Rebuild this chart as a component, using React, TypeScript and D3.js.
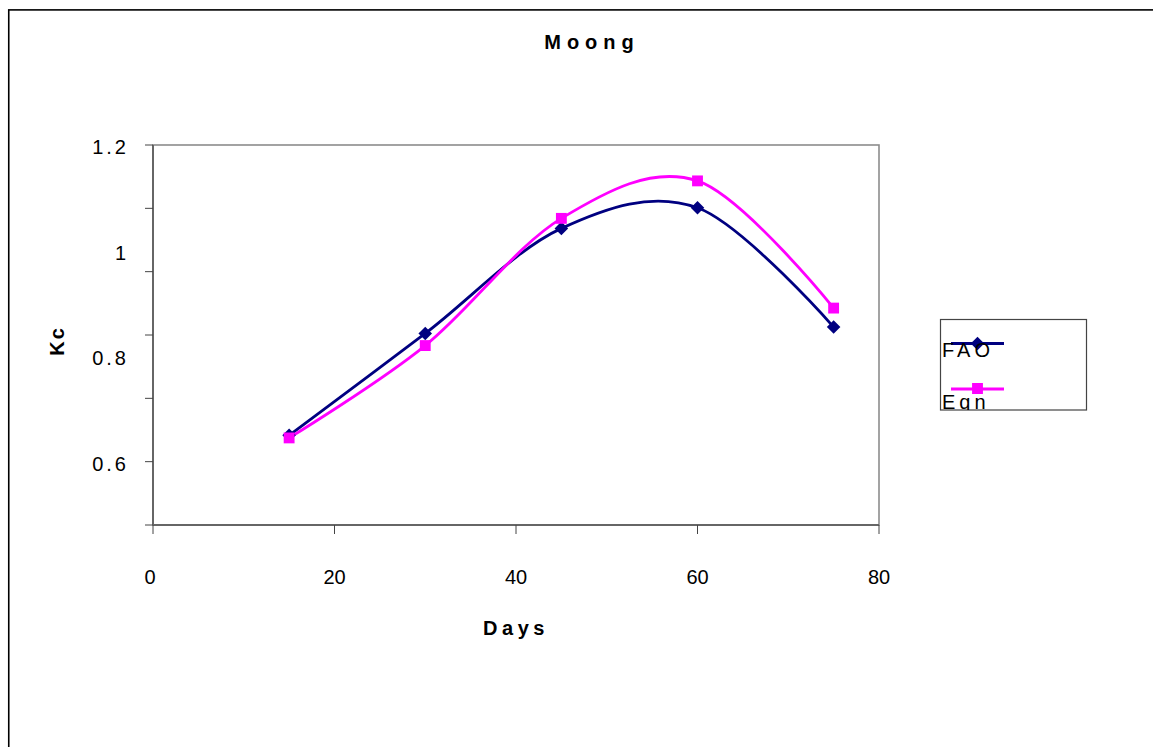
import React from "react";
import * as d3 from "d3";

// Crop coefficient (Kc) of moong by growth stage, two estimation methods
const days = [15, 30, 45, 60, 75];
const faoKc = [0.65, 0.843, 1.042, 1.081, 0.855];
const eqnKc = [0.645, 0.82, 1.061, 1.132, 0.891];

const xTickValues = [0, 20, 40, 60, 80];
const yTickValues = [1.2, 1.08, 0.96, 0.84, 0.72, 0.6, 0.48];
const yLabelValues = [1.2, 1.0, 0.8, 0.6];

const seriesNames = ["FAO", "Eqn"];
const seriesColors = ["#000080", "#FF00FF"];

const FONT = "'Liberation Sans', Arial, sans-serif";

export default function App() {
  const W = 1153;
  const H = 747;
  const plot = { left: 153, right: 879, top: 145, bottom: 525 };

  const x = d3.scaleLinear().domain([0, 80]).range([plot.left, plot.right]);
  const y = d3.scaleLinear().domain([0.48, 1.2]).range([plot.bottom, plot.top]);

  const line = d3
    .line<[number, number]>()
    .x((d) => x(d[0]))
    .y((d) => y(d[1]))
    .curve(d3.curveCatmullRom.alpha(0));

  const series = [faoKc, eqnKc].map((vals, i) => ({
    name: seriesNames[i],
    color: seriesColors[i],
    points: days.map((d, j) => [d, vals[j]] as [number, number]),
  }));

  const squarePath = d3.symbol(d3.symbolSquare, 118)() as string;
  const diamondPath = d3.symbol(d3.symbolSquare, 92)() as string;

  const marker = (i: number, cx: number, cy: number, key: string) =>
    i === 0 ? (
      <path key={key} d={diamondPath} transform={`translate(${cx},${cy}) rotate(45)`} fill={seriesColors[0]} />
    ) : (
      <path key={key} d={squarePath} transform={`translate(${cx},${cy})`} fill={seriesColors[1]} />
    );

  const legend = { x: 940.5, y: 319.5, w: 146, h: 90.5 };

  return (
    <svg
      width={W}
      height={H}
      style={{ position: "absolute", left: 0, top: 0, background: "#fff" }}
      fontFamily={FONT}
    >
      <defs>
        <clipPath id="legend-clip">
          <rect x={legend.x} y={legend.y} width={legend.w} height={legend.h} />
        </clipPath>
      </defs>

      {/* chart frame */}
      <rect x={8.75} y={9.9} width={1300} height={900} fill="#fff" stroke="#000" strokeWidth={1.6} />

      {/* title */}
      <text x={592} y={49} textAnchor="middle" fontSize={20} fontWeight="bold" letterSpacing={6}>
        Moong
      </text>

      {/* plot area */}
      <rect
        x={plot.left}
        y={plot.top}
        width={plot.right - plot.left}
        height={plot.bottom - plot.top}
        fill="#fff"
        stroke="#8c8c8c"
        strokeWidth={1.6}
      />
      <line x1={plot.left} x2={plot.left} y1={plot.top} y2={plot.bottom} stroke="#666" strokeWidth={2} />
      <line x1={plot.left} x2={plot.right} y1={plot.bottom} y2={plot.bottom} stroke="#666" strokeWidth={2} />

      {/* y ticks */}
      {yTickValues.map((v) => (
        <line key={`yt${v}`} x1={plot.left - 8} x2={plot.left} y1={y(v)} y2={y(v)} stroke="#444" strokeWidth={1} />
      ))}
      {yLabelValues.map((v) => (
        <text
          key={`yl${v}`}
          x={129}
          y={y(v) + 9}
          textAnchor="end"
          fontSize={20}
          letterSpacing={3}
          fill="#000"
        >
          {String(v)}
        </text>
      ))}

      {/* x ticks */}
      {xTickValues.map((v) => (
        <line key={`xt${v}`} x1={x(v)} x2={x(v)} y1={plot.bottom} y2={plot.bottom + 9} stroke="#444" strokeWidth={1} />
      ))}
      {xTickValues.map((v) => (
        <text key={`xl${v}`} x={x(v) - (v === 0 ? 3 : 0)} y={584} textAnchor="middle" fontSize={20} fill="#000">
          {String(v)}
        </text>
      ))}

      {/* axis titles */}
      <text x={516} y={635} textAnchor="middle" fontSize={20} fontWeight="bold" letterSpacing={4.5}>
        Days
      </text>
      <text
        transform="translate(64,341) rotate(-90)"
        textAnchor="middle"
        fontSize={20}
        fontWeight="bold"
        letterSpacing={2}
      >
        Kc
      </text>

      {/* series */}
      {series.map((s) => (
        <path key={s.name} d={line(s.points) as string} fill="none" stroke={s.color} strokeWidth={2.8} />
      ))}
      {series.map((s, i) => s.points.map((p, j) => marker(i, x(p[0]), y(p[1]), `m${i}-${j}`)))}

      {/* legend */}
      <rect x={legend.x} y={legend.y} width={legend.w} height={legend.h} fill="#fff" stroke="#444" strokeWidth={1.2} />
      <g clipPath="url(#legend-clip)">
        {series.map((s, i) => {
          const ly = i === 0 ? 343.5 : 389;
          const ty = i === 0 ? 356.5 : 409;
          return (
            <g key={`lg${s.name}`}>
              <line x1={951} x2={1004} y1={ly} y2={ly} stroke={s.color} strokeWidth={2.8} />
              {marker(i, 977.5, ly - (i === 0 ? 0 : 0.5), `lm${i}`)}
              <text x={942} y={ty} fontSize={20} letterSpacing={4} fill="#000">
                {s.name}
              </text>
            </g>
          );
        })}
      </g>
    </svg>
  );
}
